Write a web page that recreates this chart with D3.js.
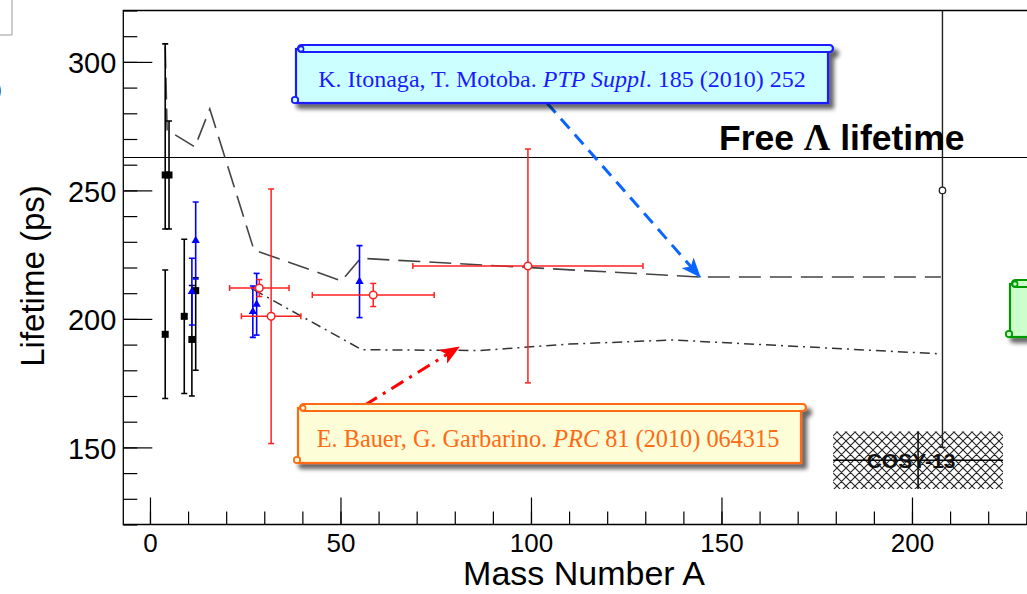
<!DOCTYPE html>
<html><head><meta charset="utf-8">
<script src="https://cdn.jsdelivr.net/npm/d3@7"></script>
<style>body{margin:0;background:#fff;overflow:hidden}</style>
</head><body>
<script>
// ---------------- data ----------------
const blackA      = [4, 5, 4, 9, 11, 12, 27];
const blackLife   = [256, 256, 194, 201, 192, 211, 212];
const blackErrUp  = [51, 21, 25, 30, 21, 5, 0];
const blackErrDn  = [21, 21, 25, 30, 22, 31, 0];

const blueA    = [11, 12, 27, 28, 55];
const blueLife = [210.6, 230.5, 202.8, 205.7, 214.5];
const blueErr  = [13, 15, 10, 12, 14];

const redA       = [28.7, 31.8, 58.6, 99.2];
const redLife    = [212, 201, 209.3, 220.6];
const redAErr    = [7.8, 7.8, 16, 30.2];
const redLifeErr = [3.3, 49.5, 4.5, 45.5];

const pbA = [208], pbLife = [250], pbErr = [100];

const cosyA = [201.6], cosyLife = [145], cosyAErr = [22.3], cosyLifeErr = [11.2];
const cosyLabel = "COSY-13";

const imA    = [4, 4.5, 11.8, 15.7, 27.3, 50.3, 55.3, 144.4, 207.6];
const imLife = [306, 273.5, 266.9, 281.7, 226.8, 214.8, 223.6, 216.3, 216.3];

const bgA    = [27.3, 55.6, 86.6, 110, 137.3, 207.3];
const bgLife = [211.3, 188, 187.7, 190.2, 191.8, 186.4];

const freeLifetime = 262.8;
const xMajorTicks = [0, 50, 100, 150, 200];
const yMajorTicks = [150, 200, 250, 300];
const xTitle = "Mass Number A";
const yTitle = "Lifetime (ps)";
const freeLabel = ["Free ", "Λ", " lifetime"];
const imRef = ["K. Itonaga, T. Motoba. ", "PTP Suppl", ". 185 (2010) 252"];
const bgRef = ["E. Bauer, G. Garbarino. ", "PRC", " 81 (2010) 064315"];

// ---------------- setup ----------------
const W = 1027, H = 594;
const sans = "'Liberation Sans', Arial, Helvetica, sans-serif";
const serif = "'Liberation Serif', 'Times New Roman', serif";
const svg = d3.select("body").append("svg").attr("width", W).attr("height", H)
  .style("display", "block");

const x = d3.scaleLinear().domain([-7, 242]).range([123.3, 1072]);
const y = d3.scaleLinear().domain([120, 320]).range([524.5, 10.5]);

const defs = svg.append("defs");
defs.append("clipPath").attr("id", "plotclip").append("rect")
  .attr("x", x.range()[0]).attr("y", y.range()[1])
  .attr("width", x.range()[1] - x.range()[0]).attr("height", y.range()[0] - y.range()[1]);
const shadow = defs.append("filter").attr("id", "shadow").attr("x", "-10%").attr("y", "-30%")
  .attr("width", "130%").attr("height", "180%");
shadow.append("feGaussianBlur").attr("in", "SourceAlpha").attr("stdDeviation", 2).attr("result", "b");
shadow.append("feOffset").attr("dx", 5).attr("dy", 5).attr("in", "b").attr("result", "o");
shadow.append("feComponentTransfer").attr("in", "o").attr("result", "o2")
  .append("feFuncA").attr("type", "linear").attr("slope", 0.6);
const mg = shadow.append("feMerge");
mg.append("feMergeNode").attr("in", "o2");
mg.append("feMergeNode").attr("in", "SourceGraphic");

const hatch = defs.append("pattern").attr("id", "hatch").attr("patternUnits", "userSpaceOnUse")
  .attr("width", 9).attr("height", 9);
hatch.append("path").attr("d", "M0,0 L9,9 M9,0 L0,9 M-1,8 L1,10 M8,-1 L10,1")
  .attr("stroke", "#222").attr("stroke-width", 1.1).attr("fill", "none");

function marker(id, color) {
  defs.append("marker").attr("id", id).attr("markerUnits", "userSpaceOnUse")
    .attr("viewBox", "0 0 20 16").attr("refX", 19).attr("refY", 8)
    .attr("markerWidth", 20).attr("markerHeight", 16).attr("orient", "auto")
    .append("path").attr("d", "M0,0 L20,8 L0,16 L5,8 Z").attr("fill", color);
}
marker("arrBlue", "#0a64ff");
marker("arrRed", "#ff0000");

// fragments at top-left
svg.append("path").attr("d", "M0,35 L12,35 L12,0").attr("fill", "none").attr("stroke", "#9a9a9a").attr("stroke-width", 1);
svg.append("text").attr("x", -6).attr("y", 97).attr("font-family", sans).attr("font-size", 24).text(")");

// ---------------- axes ----------------
const gx = svg.append("g").attr("transform", `translate(0,${y.range()[0]})`);
gx.call(d3.axisBottom(x).tickValues(d3.range(0, 250, 10)).tickSizeInner(-13).tickSizeOuter(0).tickFormat(""));
gx.call(g => g.select(".domain").remove());
const gx2 = svg.append("g").attr("transform", `translate(0,${y.range()[0]})`);
gx2.call(d3.axisBottom(x).tickValues(xMajorTicks).tickSizeInner(-27).tickSizeOuter(0).tickPadding(9));
gx2.select(".domain").remove();
gx2.selectAll("text").attr("font-family", sans).attr("font-size", 26).attr("fill", "#000");
svg.selectAll(".tick line").attr("stroke", "#000").attr("stroke-width", 1.2);

const gy = svg.append("g").attr("transform", `translate(${x.range()[0]},0)`);
gy.call(d3.axisLeft(y).tickValues(d3.range(120, 321, 10)).tickSizeInner(-14).tickSizeOuter(0).tickFormat(""));
gy.select(".domain").remove();
const gy2 = svg.append("g").attr("transform", `translate(${x.range()[0]},0)`);
gy2.call(d3.axisLeft(y).tickValues(yMajorTicks).tickSizeInner(-29).tickSizeOuter(0).tickPadding(7));
gy2.select(".domain").remove();
gy2.selectAll("text").attr("font-family", sans).attr("font-size", 29).attr("fill", "#000").attr("dy", "0.37em");
svg.selectAll(".tick line").attr("stroke", "#000").attr("stroke-width", 1.2);

// frame
svg.append("path")
  .attr("d", `M${x.range()[1]},${y.range()[1]} L${x.range()[0]},${y.range()[1]} L${x.range()[0]},${y.range()[0]} L${x.range()[1]},${y.range()[0]}`)
  .attr("fill", "none").attr("stroke", "#000").attr("stroke-width", 1.3);

svg.append("text").attr("x", 584).attr("y", 585).attr("text-anchor", "middle")
  .attr("font-family", sans).attr("font-size", 34).text(xTitle);
svg.append("text").attr("transform", "translate(44,276) rotate(-90)").attr("text-anchor", "middle")
  .attr("font-family", sans).attr("font-size", 33).text(yTitle);

// ---------------- plot content ----------------
const plot = svg.append("g").attr("clip-path", "url(#plotclip)");

// free lifetime line
plot.append("line").attr("x1", x.range()[0]).attr("x2", x.range()[1])
  .attr("y1", y(freeLifetime)).attr("y2", y(freeLifetime)).attr("stroke", "#000").attr("stroke-width", 1.2);

// COSY hatched box
plot.append("rect")
  .attr("x", x(cosyA[0] - cosyAErr[0])).attr("y", y(cosyLife[0] + cosyLifeErr[0]))
  .attr("width", x(cosyA[0] + cosyAErr[0]) - x(cosyA[0] - cosyAErr[0]))
  .attr("height", y(cosyLife[0] - cosyLifeErr[0]) - y(cosyLife[0] + cosyLifeErr[0]))
  .attr("fill", "url(#hatch)");
plot.append("line").attr("x1", x(cosyA[0] - cosyAErr[0])).attr("x2", x(cosyA[0] + cosyAErr[0]))
  .attr("y1", y(cosyLife[0])).attr("y2", y(cosyLife[0])).attr("stroke", "#000").attr("stroke-width", 1.5);
plot.append("line").attr("x1", x(cosyA[0])).attr("x2", x(cosyA[0]))
  .attr("y1", y(cosyLife[0] + cosyLifeErr[0])).attr("y2", y(cosyLife[0] - cosyLifeErr[0])).attr("stroke", "#000").attr("stroke-width", 1.5);
plot.append("text").attr("x", x(cosyA[0]) - 7).attr("y", y(cosyLife[0]) + 7.5).attr("text-anchor", "middle")
  .attr("font-family", sans).attr("font-weight", "bold").attr("font-size", 21).attr("fill", "#111").text(cosyLabel);

// theory lines
const line = d3.line().x(d => x(d[0])).y(d => y(d[1]));
plot.append("path").datum(imA.map((a, i) => [a, imLife[i]])).attr("d", line)
  .attr("fill", "none").attr("stroke", "#444").attr("stroke-width", 1.6).attr("stroke-dasharray", "22,9");
plot.append("path").datum(bgA.map((a, i) => [a, bgLife[i]])).attr("d", line)
  .attr("fill", "none").attr("stroke", "#333").attr("stroke-width", 1.5).attr("stroke-dasharray", "10,5,2,5");

// error bar helper
function vbar(g, xa, lo, hi, color, w, cap) {
  g.append("line").attr("x1", x(xa)).attr("x2", x(xa)).attr("y1", y(lo)).attr("y2", y(hi))
    .attr("stroke", color).attr("stroke-width", w);
  [lo, hi].forEach(v => g.append("line").attr("x1", x(xa) - cap).attr("x2", x(xa) + cap)
    .attr("y1", y(v)).attr("y2", y(v)).attr("stroke", color).attr("stroke-width", w));
}
function hbar(g, ya, lo, hi, color, w, cap) {
  g.append("line").attr("x1", x(lo)).attr("x2", x(hi)).attr("y1", y(ya)).attr("y2", y(ya))
    .attr("stroke", color).attr("stroke-width", w);
  [lo, hi].forEach(v => g.append("line").attr("x1", x(v)).attr("x2", x(v))
    .attr("y1", y(ya) - cap).attr("y2", y(ya) + cap).attr("stroke", color).attr("stroke-width", w));
}

// Pb point
pbA.forEach((a, i) => {
  vbar(plot, a, pbLife[i] - pbErr[i], pbLife[i] + pbErr[i], "#222", 1.4, 3);
  plot.append("circle").attr("cx", x(a)).attr("cy", y(pbLife[i])).attr("r", 3.2)
    .attr("fill", "#fff").attr("stroke", "#222").attr("stroke-width", 1.3);
});

// black squares
blackA.forEach((a, i) => {
  if (blackErrUp[i] + blackErrDn[i] > 0)
    vbar(plot, a, blackLife[i] - blackErrDn[i], blackLife[i] + blackErrUp[i], "#000", 1.6, 3);
  const s = i === 6 ? 3 : 7;
  plot.append("rect").attr("x", x(a) - s / 2).attr("y", y(blackLife[i]) - s / 2)
    .attr("width", s).attr("height", s).attr("fill", "#000");
});

// blue triangles
blueA.forEach((a, i) => {
  vbar(plot, a, blueLife[i] - blueErr[i], blueLife[i] + blueErr[i], "#0000ff", 1.6, 3);
  plot.append("path").attr("transform", `translate(${x(a)},${y(blueLife[i])})`)
    .attr("d", d3.symbol(d3.symbolTriangle, 30)).attr("fill", "#0000ff");
});

// red open circles
redA.forEach((a, i) => {
  vbar(plot, a, redLife[i] - redLifeErr[i], redLife[i] + redLifeErr[i], "#ff2020", 1.5, 3);
  hbar(plot, redLife[i], a - redAErr[i], a + redAErr[i], "#ff2020", 1.5, 3);
  plot.append("circle").attr("cx", x(a)).attr("cy", y(redLife[i])).attr("r", 3.8)
    .attr("fill", "#fff").attr("stroke", "#ff2020").attr("stroke-width", 1.5);
});

// Free Lambda label
const fl = svg.append("text").attr("x", 719).attr("y", 150).attr("font-family", sans)
  .attr("font-weight", "bold").attr("font-size", 35.5).attr("fill", "#000");
fl.append("tspan").text(freeLabel[0]);
fl.append("tspan").attr("font-family", serif).attr("font-size", 37).text(freeLabel[1]);
fl.append("tspan").text(freeLabel[2]);

// ---------------- scroll annotation boxes ----------------
function scroll(x0, x1, top, bottom, fill, stroke) {
  const g = svg.append("g").attr("filter", "url(#shadow)");
  g.append("rect").attr("x", x0).attr("y", top + 4).attr("width", x1 - x0).attr("height", bottom - top - 4)
    .attr("fill", fill).attr("stroke", stroke).attr("stroke-width", 2.2);
  g.append("rect").attr("x", x0 + 2).attr("y", top).attr("width", x1 - x0 + 3).attr("height", 7).attr("rx", 3.5)
    .attr("fill", fill).attr("stroke", stroke).attr("stroke-width", 2.2);
  g.append("circle").attr("cx", x0 + 5).attr("cy", top + 4).attr("r", 2.6)
    .attr("fill", fill).attr("stroke", stroke).attr("stroke-width", 1.6);
  g.append("circle").attr("cx", x0 - 1).attr("cy", bottom - 3).attr("r", 3.2)
    .attr("fill", fill).attr("stroke", stroke).attr("stroke-width", 1.8);
  return g;
}
function refText(parts, cx, baseline, width, color) {
  const t = svg.append("text").attr("x", cx).attr("y", baseline).attr("text-anchor", "middle")
    .attr("font-family", serif).attr("font-size", 22).attr("fill", color);
  t.append("tspan").text(parts[0]);
  t.append("tspan").attr("font-style", "italic").text(parts[1]);
  t.append("tspan").text(parts[2]);
  const w = t.node().getComputedTextLength();
  t.attr("font-size", 22 * width / w);
}

// arrows (drawn before boxes so boxes cover their starts)
svg.append("line").attr("x1", 547).attr("y1", 103).attr("x2", x(imA[7])).attr("y2", y(imLife[7]))
  .attr("stroke", "#0a64ff").attr("stroke-width", 3).attr("stroke-dasharray", "13,8")
  .attr("marker-end", "url(#arrBlue)");
svg.append("line").attr("x1", 365).attr("y1", 405).attr("x2", 459).attr("y2", 347)
  .attr("stroke", "#ff0000").attr("stroke-width", 3).attr("stroke-dasharray", "14,7,3,7")
  .attr("marker-end", "url(#arrRed)");

scroll(296, 828, 45, 103, "#ccffff", "#1a1aff");
refText(imRef, 562, 87, 488, "#1a1aff");

scroll(298, 801, 404, 463, "#fdfdd8", "#ff6a13");
refText(bgRef, 548, 447, 463, "#ff6a13");

scroll(1010, 1100, 280, 337, "#ccffcc", "#009900");
</script>
</body></html>
